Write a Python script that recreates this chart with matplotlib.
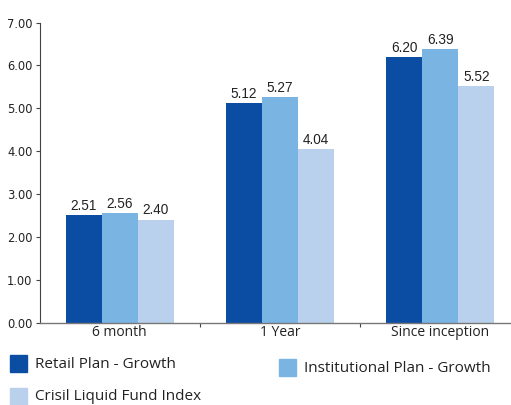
import numpy as np
import matplotlib.pyplot as plt
from matplotlib.patches import Rectangle

categories = ["6 month", "1 Year", "Since inception"]
series = ["Retail Plan - Growth", "Institutional Plan - Growth", "Crisil Liquid Fund Index"]
retail = [2.51, 5.12, 6.20]
institutional = [2.56, 5.27, 6.39]
crisil = [2.40, 4.04, 5.52]
colors = ["#0b4da2", "#79b4e3", "#b9d1ed"]

W, H = 511, 405
fig = plt.figure(figsize=(W / 100, H / 100), dpi=100)
ax = fig.add_axes([39.5 / W, 82.5 / H, 481 / W, 300 / H])

x = np.arange(len(categories))
bw = 36 / 160.5
for i, (vals, c) in enumerate(zip([retail, institutional, crisil], colors)):
    pos = x + (i - 1) * bw
    ax.bar(pos, vals, width=bw, color=c, zorder=2)
    for p, v in zip(pos, vals):
        ax.text(p, v + 0.05, f"{v:.2f}", ha="center", va="bottom",
                fontsize=9.8, family="Liberation Sans", color="#222222")

ax.set_xlim(-0.5, 2.5)
ax.set_ylim(0, 7)
ax.set_yticks(np.arange(0, 7.01, 1))
ax.set_yticklabels([f"{t:.2f}" for t in np.arange(0, 7.01, 1)], fontsize=8.3, color="#222222")
ax.tick_params(axis="y", length=3, width=0.8, color="#444444", pad=2)

ax.set_xticks(x)
ax.set_xticklabels(categories, fontsize=10, family="Open Sans", color="#222222")
ax.tick_params(axis="x", length=0, pad=1.5)
ax.set_xticks([0.5, 1.5], minor=True)
ax.tick_params(axis="x", which="minor", length=3, width=0.8, color="#444444")

for s in ["top", "right"]:
    ax.spines[s].set_visible(False)
ax.spines["left"].set_color("#444444")
ax.spines["bottom"].set_color("#777777")
ax.spines["left"].set_linewidth(0.8)
ax.spines["bottom"].set_linewidth(1.0)

# legend
leg = [(10, 355, series[0]), (279, 359, series[1]), (10, 388, series[2])]
for (lx, ly, lab), c in zip(leg, colors):
    fig.patches.append(Rectangle((lx / W, 1 - (ly + 17) / H), 17 / W, 17 / H,
                                 transform=fig.transFigure, color=c))
    fig.text((lx + 25) / W, 1 - (ly + 9) / H, lab, fontsize=11, family="Open Sans",
             va="center", ha="left", color="#222222")

fig.savefig("out.png", dpi=100)
